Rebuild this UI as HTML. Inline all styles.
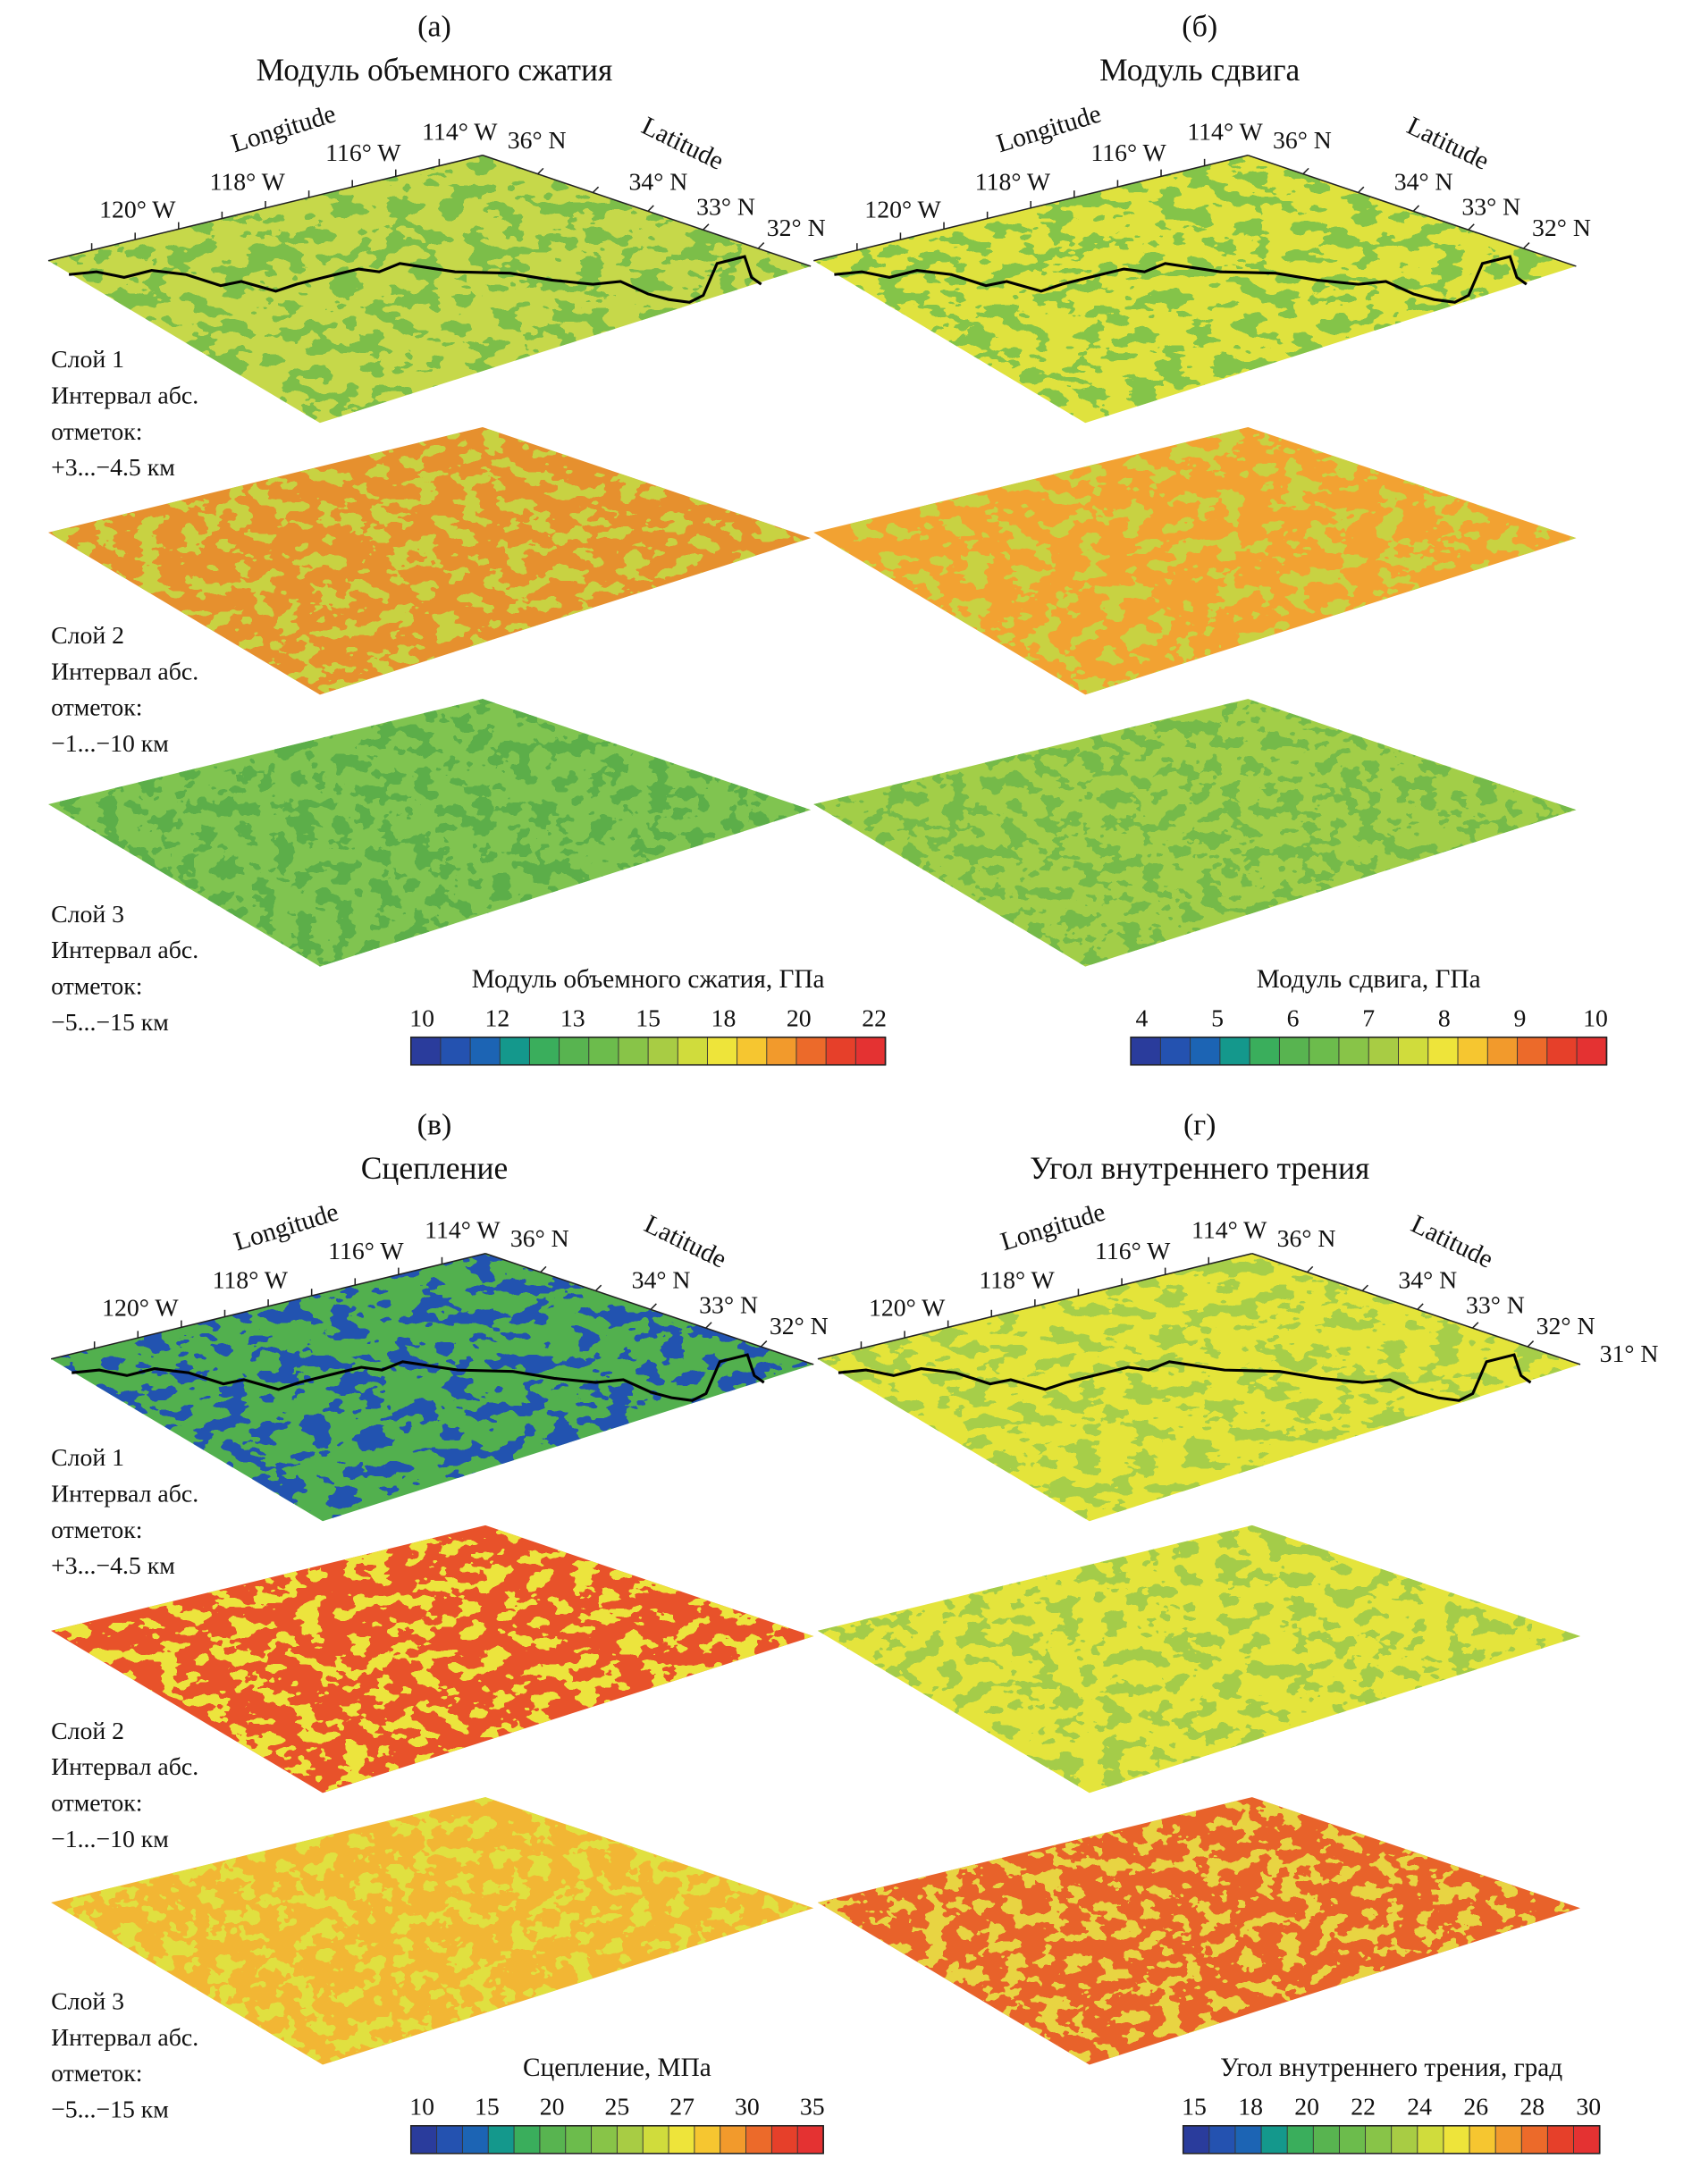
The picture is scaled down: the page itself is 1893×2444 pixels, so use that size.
<!DOCTYPE html>
<html><head><meta charset="utf-8"><style>
html,body{margin:0;padding:0;background:#fff}
svg{display:block}
text{font-family:"Liberation Serif","DejaVu Serif",serif;fill:#111}
</style></head><body>
<svg id="fig" width="1893" height="2444" viewBox="0 0 1227 1575" preserveAspectRatio="none" xmlns="http://www.w3.org/2000/svg">
<defs id="defs"></defs>
<g id="root"></g>
</svg>
<script>
// ---- data ----
const panelLetters = ["(а)","(б)","(в)","(г)"];
const panelTitles = ["Модуль объемного сжатия","Модуль сдвига","Сцепление","Угол внутреннего трения"];
const cbTitles = ["Модуль объемного сжатия, ГПа","Модуль сдвига, ГПа","Сцепление, МПа","Угол внутреннего трения, град"];
const cbTicksA = ["10","12","13","15","18","20","22"];
const cbTicksB = ["4","5","6","7","8","9","10"];
const cbTicksC = ["10","15","20","25","27","30","35"];
const cbTicksD = ["15","18","20","22","24","26","28","30"];
const cbColors = ["#2a3c9c","#2452b0","#1c64b4","#14988c","#3aae5c","#58b450","#6cbc4c","#88c448","#a8cc44","#d0dc3c","#eee43a","#f6c630","#f29a2c","#ec6a2a","#e6402a","#e43232"];
const layerBase = [["#c6d84a","#e6902e","#80c450"],["#dfe23e","#f2a232","#a2ce48"],["#52b04e","#e8522a","#f2b634"],["#e4e43a","#e4e43c","#e8622a"]];
const layerSpot = [["#7cbe4a","#c8d242","#5cae4a"],["#84c44a","#c8d242","#74ba48"],["#2452b0","#ece43e","#e0e040"],["#a6ce48","#a4cc48","#e8d442"]];
const layerLabels = [["Слой 1","Интервал абс.","отметок:","+3...−4.5 км"],["Слой 2","Интервал абс.","отметок:","−1...−10 км"],["Слой 3","Интервал абс.","отметок:","−5...−15 км"]];

const NS="http://www.w3.org/2000/svg";
const root=document.getElementById('root'), defs=document.getElementById('defs');
function el(tag,attrs,parent){const e=document.createElementNS(NS,tag);for(const k in attrs)e.setAttribute(k,attrs[k]);(parent||root).appendChild(e);return e;}
function txt(x,y,s,size,parent,anchor,rot){const t=el('text',{x:x,y:y,'font-size':size,'text-anchor':anchor||'start'},parent);if(rot)t.setAttribute('transform','rotate('+rot+' '+x+' '+y+')');t.textContent=s;return t;}

const tv=[];for(let i=0;i<20;i++)tv.push(i<11?0:1);
[0,1,2,3,4,5].forEach(i=>{
  const f=el('filter',{id:'n'+i,x:'0',y:'0',width:'1',height:'1'},defs);
  el('feTurbulence',{type:'fractalNoise',baseFrequency:(0.05+0.01*(i%3))+' '+(0.09+0.01*(i%2)),numOctaves:'3',seed:String(i*7+3),result:'t'},f);
  el('feColorMatrix',{in:'t',type:'matrix',values:'0 0 0 0 0  0 0 0 0 0  0 0 0 0 0  1 0 0 0 0',result:'a'},f);
  el('feComponentTransfer',{in:'a',result:'th'},f).innerHTML='<feFuncA type="discrete" tableValues="'+tv.join(' ')+'"/>';
  el('feComposite',{in:'SourceGraphic',in2:'th',operator:'in'},f);
});

const offs=[[0,0],[555,0],[2,792],[558,792]];
const cbTicks=[cbTicksA,cbTicksB,cbTicksC,cbTicksD];
const cbX=[[298,642],[820,1165],[298,597],[858,1160]];

for(let p=0;p<4;p++){
  const [dx,dy]=offs[p];
  const g=el('g',{},root);
  
  
  const cx=(p%2==0?315:870);
  txt(cx,dy+26,panelLetters[p],22,g,'middle');
  txt(cx,dy+58,panelTitles[p],23,g,'middle');
  for(let L=0;L<3;L++){
    const oy=dy+L*196;
    const pts=[[35+dx,188+oy],[350+dx,112+oy],[588+dx,192+oy],[232+dx,305+oy]];
    const ps=pts.map(q=>q.join(',')).join(' ');
    const slab=el('g',{},g);
    
    
    el('polygon',{points:ps,fill:layerBase[p][L]},slab);
    el('polygon',{points:ps,fill:layerSpot[p][L],filter:'url(#n'+((p*3+L)%6)+')'},slab);
    if(L==0){
      const b=[[50,198],[70,196],[90,200],[110,195],[135,198],[160,206],[175,203],[200,210],[215,205],[235,200],[260,194],[275,196],[290,190],[330,196],[370,197],[400,202],[430,205],[450,203],[470,212],[485,216],[500,218],[510,213],[520,190],[540,185],[545,200],[552,205]];
      el('polyline',{points:b.map(q=>(q[0]+dx)+','+(q[1]+oy)).join(' '),fill:'none',stroke:'#000','stroke-width':'2'},slab);
      el('line',{x1:35+dx,y1:188+oy,x2:350+dx,y2:112+oy,stroke:'#222','stroke-width':'1'},slab);
      el('line',{x1:350+dx,y1:112+oy,x2:588+dx,y2:192+oy,stroke:'#222','stroke-width':'1'},slab);
      for(let k=1;k<10;k++){const x=35+dx+k*31.5,y=188+oy-k*7.6;el('line',{x1:x,y1:y,x2:x,y2:y-5,stroke:'#222'},slab);}
      for(let k=1;k<6;k++){const x=350+dx+k*40,y=112+oy+k*13.4;el('line',{x1:x,y1:y,x2:x+4,y2:y-4,stroke:'#222'},slab);}
    }
  }
  const ax=el('g',{},g);
  
  
  txt(170+dx,110+dy,'Longitude',19,ax,'start',-17);
  txt(72+dx,157+dy,'120° W',18,ax);txt(152+dx,137+dy,'118° W',18,ax);txt(236+dx,116+dy,'116° W',18,ax);txt(306+dx,101+dy,'114° W',18,ax);
  txt(368+dx,107+dy,'36° N',18,ax);txt(464+dx,95+dy,'Latitude',19,ax,'start',26);
  txt(456+dx,137+dy,'34° N',18,ax);txt(505+dx,155+dy,'33° N',18,ax);txt(556+dx,170+dy,'32° N',18,ax);
  if(p==3) txt(1160,982,'31° N',18,ax);
  if(p%2==0){
    for(let L=0;L<3;L++){
      const ys=[[265,291,317,343],[464,490,516,542],[665,691,717,743]][L];
      const adj=(p==2)?[0,-2,-8][L]:0;
      for(let r=0;r<4;r++){const t=txt(37,ys[r]+dy+adj,layerLabels[L][r],18,g);}
    }
  }
  const cb=el('g',{},g);
  
  
  const [x0,x1]=cbX[p]; const cy=748+dy-(p>=2?7:0);
  const w=(x1-x0)/cbColors.length;
  cbColors.forEach((c,i)=>{el('rect',{x:x0+i*w,y:cy,width:w+0.3,height:20,fill:c,stroke:'#333','stroke-width':'0.6'},cb);});
  el('rect',{x:x0,y:cy,width:x1-x0,height:20,fill:'none',stroke:'#222','stroke-width':'1'},cb);
  txt((x0+x1)/2,cy-36,cbTitles[p],19,cb,'middle');
  const tk=cbTicks[p];
  tk.forEach((s,i)=>{txt(x0+8+i*(x1-x0-16)/(tk.length-1),cy-8,s,18,cb,'middle');});
}
</script>
</body></html>
